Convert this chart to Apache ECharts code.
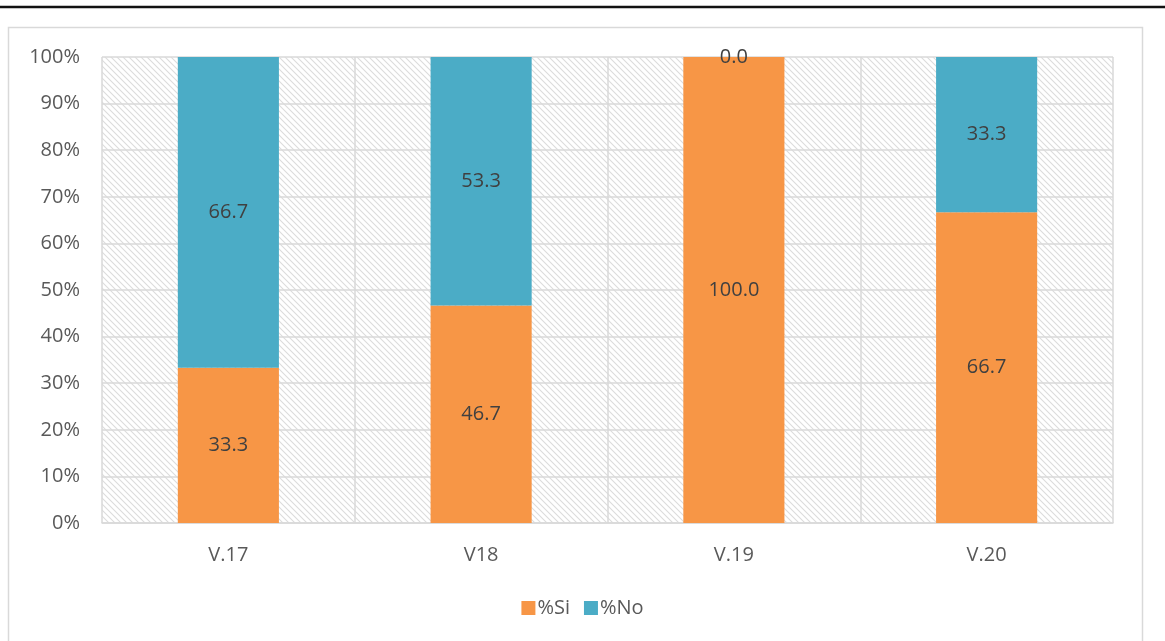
<!DOCTYPE html>
<html>
<head>
<meta charset="utf-8">
<script src="https://cdn.jsdelivr.net/npm/echarts@6/dist/echarts.min.js"></script>
<style>
  html, body { margin: 0; padding: 0; background: #fff; }
  #chart { width: 1165px; height: 641px; }
</style>
</head>
<body>
<div id="chart"></div>
<script>
// Categories and stacked percentages
const categories = ['V.17', 'V18', 'V.19', 'V.20'];
const siValues = [33.3, 46.7, 100.0, 66.7];
const noValues = [66.7, 53.3, 0.0, 33.3];
const yTicks = [0, 10, 20, 30, 40, 50, 60, 70, 80, 90, 100];

// Diagonal hatch tile for the plot background
function hatchTile() {
  const c = document.createElement('canvas');
  const s = 6;
  c.width = s; c.height = s;
  const ctx = c.getContext('2d');
  ctx.strokeStyle = '#dcdcdc';
  ctx.lineWidth = 1.1;
  ctx.beginPath();
  ctx.moveTo(-1, -1); ctx.lineTo(s + 1, s + 1);
  ctx.moveTo(-1, s - 1); ctx.lineTo(1, s + 1);
  ctx.moveTo(s - 1, -1); ctx.lineTo(s + 1, 1);
  ctx.stroke();
  return c;
}

const font = '"Open Sans", Lato, sans-serif';
const fs = 20;
const chart = echarts.init(document.getElementById('chart'));

chart.setOption({
  animation: false,
  backgroundColor: '#fff',
  textStyle: { fontFamily: font },
  graphic: [
    { type: 'line', shape: { x1: 0, y1: 7, x2: 1165, y2: 7 }, style: { stroke: '#111', lineWidth: 2.5 }, z: 10 },
    { type: 'rect', shape: { x: 8.5, y: 27.5, width: 1134, height: 700 }, style: { fill: 'none', stroke: '#d9d9d9', lineWidth: 1.5 }, z: -1 }
  ],
  grid: {
    left: 102, right: 52, top: 57, bottom: 118,
    show: true,
    borderWidth: 0,
    backgroundColor: { image: hatchTile(), repeat: 'repeat' }
  },
  legend: {
    bottom: 18,
    left: 'center',
    icon: 'rect',
    itemWidth: 14,
    itemHeight: 14,
    itemGap: 14,
    textStyle: { fontFamily: font, fontSize: fs, color: '#595959', padding: [0, 0, 0, -3] },
    data: ['%Si', '%No']
  },
  xAxis: {
    type: 'category',
    data: categories,
    axisLine: { show: true, lineStyle: { color: '#d9d9d9', width: 1.5 } },
    axisTick: { show: false },
    splitLine: { show: true, lineStyle: { color: '#d9d9d9', width: 1.5 } },
    axisLabel: { color: '#595959', fontSize: fs, margin: 22, fontFamily: font }
  },
  yAxis: {
    type: 'value',
    min: yTicks[0],
    max: yTicks[yTicks.length - 1],
    interval: yTicks[1] - yTicks[0],
    axisLine: { show: false },
    axisTick: { show: false },
    splitLine: { show: true, lineStyle: { color: '#d9d9d9', width: 1.5 } },
    axisLabel: { color: '#595959', fontSize: fs, margin: 22, formatter: '{value}%', fontFamily: font }
  },
  series: [
    {
      name: '%Si',
      type: 'bar',
      stack: 'total',
      barWidth: '40%',
      data: siValues,
      itemStyle: { color: '#F79646' },
      label: {
        show: true, position: 'inside', color: '#404040', fontSize: fs, fontFamily: font,
        formatter: p => p.value.toFixed(1)
      }
    },
    {
      name: '%No',
      type: 'bar',
      stack: 'total',
      barWidth: '40%',
      data: noValues,
      itemStyle: { color: '#4BACC6' },
      label: {
        show: true, position: 'inside', color: '#404040', fontSize: fs, fontFamily: font,
        formatter: p => p.value.toFixed(1)
      }
    }
  ]
});
</script>
</body>
</html>
